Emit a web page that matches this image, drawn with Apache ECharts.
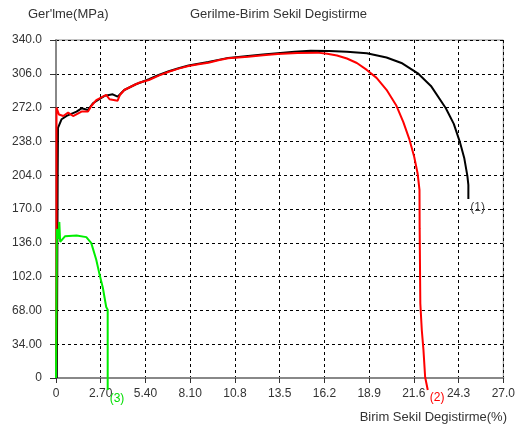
<!DOCTYPE html>
<html>
<head>
<meta charset="utf-8">
<script src="https://cdn.jsdelivr.net/npm/echarts@6/dist/echarts.min.js"></script>
<style>
  html, body { margin: 0; padding: 0; background: #fff; }
  #main { width: 518px; height: 430px; }
</style>
</head>
<body>
<div id="main"></div>
<script>
// tick labels
var xTickLabels = ["0", "2.70", "5.40", "8.10", "10.8", "13.5", "16.2", "18.9", "21.6", "24.3", "27.0"];
var yTickLabels = ["0", "34.00", "68.00", "102.0", "136.0", "170.0", "204.0", "238.0", "272.0", "306.0", "340.0"];

// (1) black specimen: [strain %, stress MPa]
var curve1 = [
  [0.05, 0], [0.1, 204], [0.12, 251.6], [0.34, 260.3], [0.64, 263.6], [1.24, 268],
  [1.54, 271.3], [1.93, 269.6], [2.23, 276.4], [2.93, 283.8], [3.42, 285.4], [3.72, 283],
  [4.12, 289.7], [4.82, 295.5], [5.61, 300.5], [6.2, 304.8], [6.81, 308.6], [7.4, 311.6],
  [8.0, 314.3], [8.6, 316.2], [9.2, 317.8], [9.8, 320], [10.39, 322], [11.0, 323],
  [11.59, 324], [12.5, 325.5], [13.38, 326.8], [14.4, 328.2], [15.37, 329.2], [16.5, 329],
  [17.56, 328.3], [18.76, 326.6], [19.95, 322.4], [20.85, 316.9], [21.84, 306.5],
  [22.63, 293.8], [23.53, 271.4], [24.01, 255.6], [24.37, 237.8], [24.64, 221.4],
  [24.83, 203.3], [24.89, 194.2], [24.89, 180]
];

// (2) red specimen
var curve2 = [
  [0.0, 0], [0.03, 100], [0.03, 272], [0.18, 265], [0.44, 263.5], [0.73, 267], [1.03, 263.5],
  [1.54, 268], [1.93, 268], [2.13, 273.6], [2.43, 279.6], [3.03, 284.7], [3.23, 280.4],
  [3.72, 279], [3.86, 284.7], [4.12, 289.7], [4.82, 295.5], [5.02, 297], [5.61, 299.8],
  [6.2, 304.2], [6.81, 308.1], [7.4, 311.2], [8.0, 313.8], [8.6, 315.6], [9.2, 317.2],
  [9.8, 319.6], [10.39, 321.6], [11.0, 322.5], [11.59, 323.2], [12.5, 324.7], [13.38, 325.9],
  [14.57, 327], [15.77, 327.3], [16.37, 326.2], [16.96, 324.4], [17.56, 321.4], [18.16, 316.9],
  [18.76, 309.9], [19.35, 301.9], [19.95, 289.9], [20.55, 273.8], [20.96, 257.7],
  [21.32, 240.6], [21.62, 222.5], [21.83, 205.4], [21.94, 189.3], [21.95, 150],
  [21.99, 75], [22.08, 48], [22.18, 28], [22.28, 1], [22.44, -12]
];

// (3) green specimen
var curve3 = [
  [0, 0], [0.05, 150], [0.15, 140], [0.2, 157], [0.25, 137], [0.54, 142.5], [1.24, 143.4],
  [1.83, 141.7], [2.13, 135.7], [2.43, 119], [2.63, 104], [2.83, 90.5], [3.03, 71.4],
  [3.12, 68.7], [3.12, -12]
];

var font = "'Liberation Sans', Arial, sans-serif";
var txt = { fontSize: 13, fontWeight: 'normal', color: '#333', fontFamily: font };

var chart = echarts.init(document.getElementById('main'));
chart.setOption({
  animation: false,
  title: [
    { text: 'Gerilme-Birim Sekil Degistirme', left: 190, top: 8, padding: 0, textStyle: txt },
    { text: "Ger'lme(MPa)", left: 28, top: 8, padding: 0, textStyle: txt },
    { text: 'Birim Sekil Degistirme(%)', right: 11, top: 411, padding: 0, textStyle: txt }
  ],
  grid: {
    left: 56, right: 10, top: 40, bottom: 52,
    show: true, borderColor: '#888', borderWidth: 1
  },
  xAxis: {
    type: 'value', min: 0, max: 27, interval: 2.7,
    axisLine: { onZero: false, lineStyle: { color: '#888', width: 2 } },
    axisTick: { show: true, length: 5, lineStyle: { color: '#333' } },
    axisLabel: {
      margin: 10, fontSize: 12, color: '#333', fontFamily: font,
      formatter: function (v) { return xTickLabels[Math.round(v / 2.7)]; }
    },
    splitLine: { show: true, lineStyle: { color: '#000', type: [3, 3], width: 1 } }
  },
  yAxis: {
    type: 'value', min: 0, max: 340, interval: 34,
    axisLine: { show: true, lineStyle: { color: '#888', width: 2 } },
    axisTick: { show: true, length: 6, lineStyle: { color: '#333' } },
    axisLabel: {
      margin: 14, fontSize: 12, color: '#333', fontFamily: font,
      formatter: function (v) { return yTickLabels[Math.round(v / 34)]; }
    },
    splitLine: { show: true, lineStyle: { color: '#000', type: [3, 3], width: 1 } }
  },
  series: [
    {
      type: 'line', data: curve1, symbol: 'none', clip: false,
      lineStyle: { color: '#000', width: 2 },
      endLabel: { show: true, formatter: '(1)', offset: [-6, 9], color: '#444', fontSize: 12, fontFamily: font }
    },
    {
      type: 'line', data: curve2, symbol: 'none', clip: false,
      lineStyle: { color: '#ff0000', width: 2 },
      endLabel: { show: true, formatter: '(2)', offset: [-6, 8], color: '#ff0000', fontSize: 12, fontFamily: font }
    },
    {
      type: 'line', data: curve3, symbol: 'none', clip: false,
      lineStyle: { color: '#00ee00', width: 2 },
      endLabel: { show: true, formatter: '(3)', offset: [-6, 9], color: '#00dd00', fontSize: 12, fontFamily: font }
    }
  ]
});
</script>
</body>
</html>
